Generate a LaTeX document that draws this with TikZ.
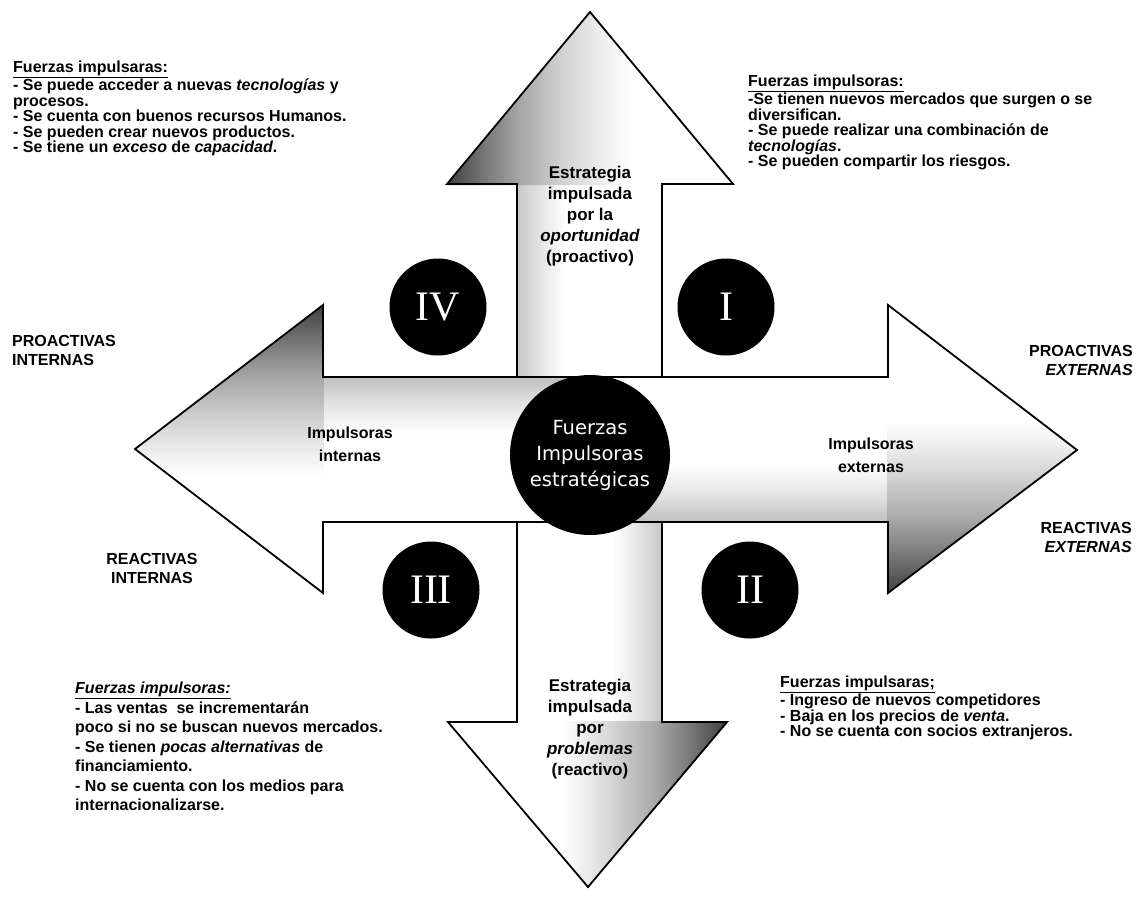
\documentclass[tikz,border=0pt]{standalone}
\usepackage{fontspec}
\setmainfont{Liberation Sans}
\newfontfamily\numfont{Liberation Serif}
\newfontfamily\corefont{DejaVu Sans}

% fades of the arrow heads and shafts (the path's bounding box maps to 25bp..75bp)
\pgfdeclarehorizontalshading{upheadfade}{100bp}{color(0bp)=(black!75); color(25bp)=(black!75); color(31bp)=(black!55); color(37.5bp)=(black!35); color(45bp)=(black!18); color(52.5bp)=(black!6); color(57.5bp)=(white); color(100bp)=(white)}
\pgfdeclarehorizontalshading{upshaftfade}{100bp}{color(0bp)=(black!22); color(25bp)=(black!22); color(35bp)=(black!8); color(42bp)=(white); color(100bp)=(white)}
\pgfdeclarehorizontalshading{downheadfade}{100bp}{color(0bp)=(white); color(45bp)=(white); color(49bp)=(black!6); color(55bp)=(black!18); color(62.5bp)=(black!35); color(69bp)=(black!55); color(75bp)=(black!75); color(100bp)=(black!75)}
\pgfdeclarehorizontalshading{downshaftfade}{100bp}{color(0bp)=(white); color(57.5bp)=(white); color(65bp)=(black!8); color(75bp)=(black!22); color(100bp)=(black!22)}
\pgfdeclareverticalshading{leftheadfade}{100bp}{color(0bp)=(white); color(45bp)=(white); color(49bp)=(black!6); color(55bp)=(black!18); color(62.5bp)=(black!35); color(69bp)=(black!55); color(75bp)=(black!75); color(100bp)=(black!75)}
\pgfdeclareverticalshading{leftshaftfade}{100bp}{color(0bp)=(white); color(55bp)=(white); color(65bp)=(black!10); color(75bp)=(black!25); color(100bp)=(black!25)}
\pgfdeclareverticalshading{rightheadfade}{100bp}{color(0bp)=(black!75); color(25bp)=(black!75); color(31bp)=(black!55); color(37.5bp)=(black!35); color(45bp)=(black!18); color(51bp)=(black!6); color(55bp)=(white); color(100bp)=(white)}
\pgfdeclareverticalshading{rightshaftfade}{100bp}{color(0bp)=(black!25); color(25bp)=(black!25); color(35bp)=(black!10); color(45bp)=(white); color(100bp)=(white)}

\tikzset{
  outline/.style={line width=1.8pt, line join=miter},
  bodytext/.style={anchor=north west, align=left, inner sep=0pt, font=\bfseries\fontsize{16}{15.5}\selectfont},
  sidelabel/.style={align=left, inner sep=0pt, font=\bfseries\fontsize{16}{19}\selectfont},
  armtext/.style={anchor=north, align=center, inner sep=0pt, font=\bfseries\fontsize{17}{21}\selectfont},
  flowtext/.style={anchor=north, align=center, inner sep=0pt, font=\bfseries\fontsize{16}{23}\selectfont},
  quadrant/.style={circle, fill=black, minimum size=97pt, inner sep=0pt, text=white, font=\numfont\fontsize{42}{42}\selectfont},
}

\begin{document}
\begin{tikzpicture}[x=1pt, y=-1pt]
\useasboundingbox (0,0) rectangle (1140,898);
\fill[white] (0,0) rectangle (1140,898);

% arrow geometry
\coordinate (uT) at (590,12);
\coordinate (uL) at (447,184);
\coordinate (uR) at (733,184);
\coordinate (dT) at (588,887);
\coordinate (dL) at (448,722);
\coordinate (dR) at (727,722);
\coordinate (lT) at (135,449);
\coordinate (lU) at (323,305);
\coordinate (lD) at (323,593);
\coordinate (rT) at (1077,450);
\coordinate (rU) at (888,305);
\coordinate (rD) at (888,593);

% vertical arms: shafts, then heads
\shade[shading=upshaftfade] (517,184) rectangle (662,455);
\shade[shading=downshaftfade] (517,450) rectangle (662,722);
\shade[shading=upheadfade] (uL) -- (uT) -- (uR) -- ([yshift=-1pt]uR) -- ([yshift=-1pt]uL) -- cycle;
\shade[shading=downheadfade] (dL) -- (dT) -- (dR) -- ([yshift=1pt]dR) -- ([yshift=1pt]dL) -- cycle;
\draw[outline] (517,377) -- (517,184) -- (uL) -- (uT) -- (uR) -- (662,184) -- (662,377);
\draw[outline] (517,522) -- (517,722) -- (dL) -- (dT) -- (dR) -- (662,722) -- (662,522);

% horizontal arms: shafts, then heads
\shade[shading=leftshaftfade] (323,377) rectangle (590,522);
\shade[shading=rightshaftfade] (590,377) rectangle (888,522);
\shade[shading=leftheadfade] (lU) -- (lT) -- (lD) -- ([xshift=1pt]lD) -- ([xshift=1pt]lU) -- cycle;
\shade[shading=rightheadfade] (rU) -- (rT) -- (rD) -- ([xshift=-1pt]rD) -- ([xshift=-1pt]rU) -- cycle;
\draw[outline] (lT) -- (lU) -- (323,377) -- (888,377) -- (rU) -- (rT) -- (rD) -- (888,522) -- (323,522) -- (lD) -- cycle;

% centre and quadrant discs
\node[circle, fill=black, minimum size=160pt, inner sep=0pt, text=white, align=center,
      font=\corefont\fontsize{19.5}{26}\selectfont] (core) at (590,455)
      {Fuerzas\\Impulsoras\\estratégicas};
\node[quadrant] (qIV) at (438,307) {IV};
\node[quadrant] (qI) at (726,307) {I};
\node[quadrant] (qIII) at (431,590) {III};
\node[quadrant] (qII) at (750,590) {II};

% texts on the arms
\node[armtext] (tUp) at (590,166) {Estrategia\\impulsada\\por la\\\textit{oportunidad}\\(proactivo)};
\node[armtext] (tDown) at (590,679) {Estrategia\\impulsada\\por\\\textit{problemas}\\(reactivo)};
\node[flowtext] (tLeft) at (350,427) {Impulsoras\\internas};
\node[flowtext] (tRight) at (871,438) {Impulsoras\\externas};

% side labels
\node[sidelabel, anchor=north west] (pInt) at (12,335) {PROACTIVAS\\INTERNAS};
\node[sidelabel, anchor=north east, align=right] (pExt) at (1133,345) {PROACTIVAS\\\textit{EXTERNAS}};
\node[sidelabel, anchor=north, align=center] (rInt) at (152,553) {REACTIVAS\\INTERNAS};
\node[sidelabel, anchor=north east, align=right] (rExt) at (1132,522) {REACTIVAS\\\textit{EXTERNAS}};

% quadrant notes
\node[bodytext] (nIV) at (13,61) {\underline{Fuerzas impulsaras:}\\
- Se puede acceder a nuevas \textit{tecnologías} y\\
procesos.\\
- Se cuenta con buenos recursos Humanos.\\
- Se pueden crear nuevos productos.\\
- Se tiene un \textit{exceso} de \textit{capacidad}.};

\node[bodytext] (nI) at (748,75) {\underline{Fuerzas impulsoras:}\\
-Se tienen nuevos mercados que surgen o se\\
diversifican.\\
- Se puede realizar una combinación de\\
\textit{tecnologías}.\\
- Se pueden compartir los riesgos.};

\node[bodytext, font=\bfseries\fontsize{16}{19.5}\selectfont] (nIII) at (75,682) {\underline{\textit{Fuerzas impulsoras:}}\\
- Las ventas\ \ se incrementarán\\
poco si no se buscan nuevos mercados.\\
- Se tienen \textit{pocas alternativas} de\\
financiamiento.\\
- No se cuenta con los medios para\\
internacionalizarse.};

\node[bodytext] (nII) at (780,676) {\underline{Fuerzas impulsaras;}\\
- Ingreso de nuevos competidores\\
- Baja en los precios de \textit{venta}.\\
- No se cuenta con socios extranjeros.};
\end{tikzpicture}
\end{document}
